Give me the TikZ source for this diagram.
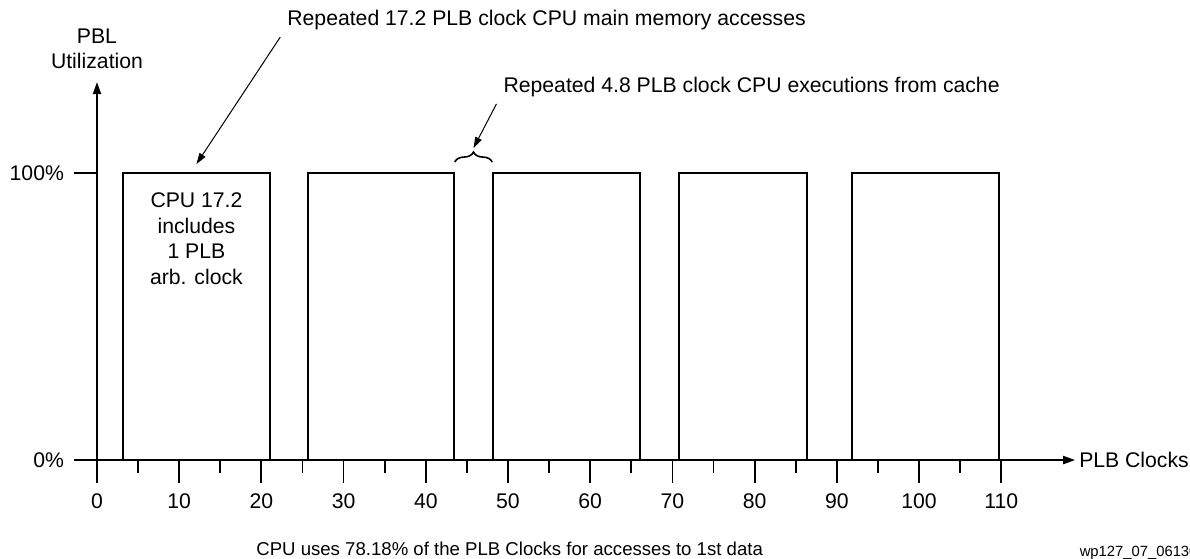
\documentclass[tikz,border=0pt]{standalone}
\usepackage{fontspec}
\setmainfont{Liberation Sans}
\usepackage{tikz}
\usetikzlibrary{
  arrows.meta,
  calc,
  decorations.pathreplacing,
  fit,
  positioning
}

\begin{document}
\begin{tikzpicture}[
  x=4.11pt, y=1.435pt,
  every node/.style={font=\fontsize{10.6}{12.75}\selectfont},
  bar/.style={rectangle, draw, line width=1pt, inner sep=0pt},
  axis/.style={line width=1pt},
  tick/.style={line width=0.9pt},
  pointer/.style={-{Triangle[length=5.5pt, width=3.5pt]}, line width=0.5pt},
  note/.style={anchor=west},
]
% Frame
\useasboundingbox (-11.8,-34.15) rectangle (132.97,160.3);

% Axes
\draw[axis, -{Triangle[length=6pt, width=4pt]}] (0,-8) -- (0,131.7) coordinate (ytop);
\draw[axis, -{Triangle[length=6pt, width=4pt]}] (-2.8,0) coordinate (xstart) -- (119,0) coordinate (xend);
\draw[axis] (-2.8,100) coordinate (ymax) -- (0,100);
\foreach \x in {10,20,...,110} \draw[tick] (\x,0) -- (\x,-8);
\foreach \x in {5,15,...,105} \draw[tick] (\x,0) -- (\x,-4.4);
\foreach \x in {0,10,...,110} \node (n\x) at (\x,-14.3) {\x};

% Axis labels
\node[above=3pt of ytop, align=center] (ylab) {PBL\\Utilization};
\node[right=-1.5pt of xend] (xlab) {PLB Clocks};
\node[left=1.5pt of ymax] (p100) {100\%};
\node[left=1.5pt of xstart] (p0) {0\%};

% Bars
\node[bar, fit={(3.2,0) (21,100)}] (b1) {};
\node[bar, fit={(25.7,0) (43.4,100)}] (b2) {};
\node[bar, fit={(48.2,0) (66.1,100)}] (b3) {};
\node[bar, fit={(70.8,0) (86.4,100)}] (b4) {};
\node[bar, fit={(91.9,0) (109.7,100)}] (b5) {};
\node[below=7pt of b1.north, align=center] (cpu) {CPU 17.2\\includes\\1 PLB\\arb. clock};

% Annotations
\node[note] (mem) at (22.3,153.3) {Repeated 17.2 PLB clock CPU main memory accesses};
\node[note] (cache) at (48.6,130) {Repeated 4.8 PLB clock CPU executions from cache};
\draw[line width=0.8pt, decorate, decoration={brace, amplitude=5pt}]
  ([yshift=5pt]b2.north east) -- ([yshift=5pt]b3.north west);
\coordinate (gap) at ($(b2.north east)!0.5!(b3.north west) + (0,12pt)$);
\draw[pointer] (mem.south west) -- ([yshift=4pt]b1.north);
\draw[pointer] (cache.south west) -- (gap);

% Caption
\node[font=\fontsize{9.3}{11}\selectfont] (summary) at (50.2,-31) {CPU uses 78.18\% of the PLB Clocks for accesses to 1st data};
\node[note, font=\fontsize{7.4}{9}\selectfont] (fig) at (118.7,-32.4) {wp127\_07\_061305};
\end{tikzpicture}
\end{document}
